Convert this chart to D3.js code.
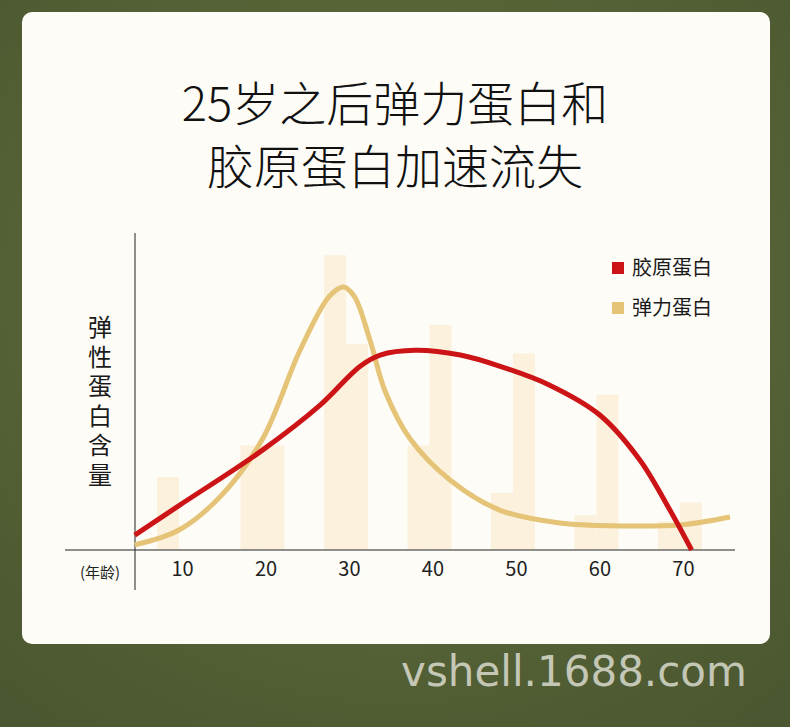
<!DOCTYPE html>
<html><head><meta charset="utf-8">
<script src="https://cdn.jsdelivr.net/npm/d3@7"></script>
<style>body{margin:0}svg{display:block}</style>
</head><body><div id="chart"></div>
<script>
(function() {
  'use strict';

  var svgW = 790, svgH = 727;

  // bar pairs by decade (0-100 scale)
  var decades = [10, 20, 30, 40, 50, 60, 70];
  var barLeft = [23, 33, 93, 33, 18, 11, 9];
  var barRight = [0, 33, 65, 71, 62, 49, 15];
  // curves: age / level
  var elastinAge = [4.7, 10, 15, 20, 24.5, 28, 29.7, 31, 32.9, 34.7, 37.7, 42.5, 48.4, 55.6, 62.8, 70, 76];
  var elastinVal = [1.6, 6.3, 17, 35, 63, 80, 83, 80, 66, 50, 35, 22, 12.6, 8.5, 7.6, 7.9, 10.4];
  var collagenAge = [4.7, 10, 20, 26.9, 31.7, 34.1, 38.3, 43.7, 48.4, 54.4, 60.4, 65.2, 68.8, 71.4];
  var collagenVal = [4.7, 14, 31.5, 45.7, 58, 61.5, 63, 61.5, 58, 52, 42.6, 28.4, 12.6, 0];
  var yLabel = ['弹', '性', '蛋', '白', '含', '量'];
  var legendNames = ['胶原蛋白', '弹力蛋白'];
  var colors = ['#cc1417', '#e5c377'];

  var svg = d3.select('#chart').append('svg').attr('width', svgW).attr('height', svgH);

  var bg = svg.append('defs').append('radialGradient').attr('id', 'bg').attr('cx', '50%').attr('cy', '40%').attr('r', '75%');
  bg.append('stop').attr('offset', '0%').attr('stop-color', '#66723f');
  bg.append('stop').attr('offset', '100%').attr('stop-color', '#4a5730');
  svg.append('rect').attr('width', svgW).attr('height', svgH).attr('fill', 'url(#bg)');
  svg.append('rect').attr('x', 22).attr('y', 12).attr('width', 748).attr('height', 632)
    .attr('rx', 10).attr('fill', '#fdfcf7');

  var font = '"Noto Sans CJK SC", sans-serif';
  svg.selectAll('text.title').data(['25岁之后弹力蛋白和', '胶原蛋白加速流失']).enter()
    .append('text').attr('x', 395).attr('y', function(d, i) { return 121 + i * 63; })
    .attr('text-anchor', 'middle').attr('font-family', font).attr('font-size', 47)
    .attr('font-weight', 300).attr('fill', '#111').text(function(d) { return d; });

  var x = d3.scaleLinear().domain([0, 76]).range([95.5, 730]);
  var y = d3.scaleLinear().domain([0, 100]).range([550, 233]);

  // background bars
  var g = svg.append('g');
  g.selectAll('rect.l').data(decades).enter().append('rect')
    .attr('x', function(d) { return x(d) - 22; }).attr('width', 22)
    .attr('y', function(d, i) { return y(barLeft[i]); })
    .attr('height', function(d, i) { return y(0) - y(barLeft[i]); })
    .attr('fill', '#fbf1dc');
  g.selectAll('rect.r').data(decades).enter().append('rect')
    .attr('x', function(d) { return x(d); }).attr('width', 22)
    .attr('y', function(d, i) { return y(barRight[i]); })
    .attr('height', function(d, i) { return y(0) - y(barRight[i]); })
    .attr('fill', '#fbf1dc');

  // axes
  svg.append('line').attr('x1', 65).attr('x2', 735).attr('y1', y(0)).attr('y2', y(0)).attr('stroke', '#222');
  svg.append('line').attr('x1', 135).attr('x2', 135).attr('y1', 233).attr('y2', 590).attr('stroke', '#222');
  svg.append('g').attr('transform', 'translate(0,' + y(0) + ')')
    .call(d3.axisBottom(x).tickValues(decades).tickSize(0).tickPadding(12))
    .call(function(a) {
      a.select('.domain').remove();
      a.selectAll('text').attr('font-family', font).attr('font-size', 20).attr('fill', '#222')
        .attr('dx', 3);
    });
  svg.append('text').attr('x', 100).attr('y', 578).attr('text-anchor', 'middle')
    .attr('font-family', font).attr('font-size', 15).attr('fill', '#222').text('(年龄)');
  svg.selectAll('text.yl').data(yLabel).enter().append('text')
    .attr('x', 100).attr('y', function(d, i) { return 336 + i * 29.5; })
    .attr('text-anchor', 'middle').attr('font-family', font).attr('font-size', 24)
    .attr('fill', '#1a1a1a').text(function(d) { return d; });

  var line = d3.line().curve(d3.curveCatmullRom.alpha(0.5))
    .x(function(d) { return x(d[0]); }).y(function(d) { return y(d[1]); });
  svg.append('path').attr('d', line(d3.zip(elastinAge, elastinVal)))
    .attr('fill', 'none').attr('stroke', colors[1]).attr('stroke-width', 5);
  svg.append('path').attr('d', line(d3.zip(collagenAge, collagenVal)))
    .attr('fill', 'none').attr('stroke', colors[0]).attr('stroke-width', 5);

  var lg = svg.selectAll('g.lg').data(legendNames).enter().append('g')
    .attr('transform', function(d, i) { return 'translate(612,' + (262 + i * 40) + ')'; });
  lg.append('rect').attr('width', 12).attr('height', 12)
    .attr('fill', function(d, i) { return colors[i]; });
  lg.append('text').attr('x', 20).attr('y', 13).attr('font-family', font).attr('font-size', 20)
    .attr('fill', '#1a1a1a').text(function(d) { return d; });

  svg.append('text').attr('x', 574).attr('y', 686).attr('text-anchor', 'middle')
    .attr('font-family', '"DejaVu Sans", sans-serif').attr('font-size', 42)
    .attr('fill', 'rgba(235,235,225,0.75)').text('vshell.1688.com');
}());
</script></body></html>
